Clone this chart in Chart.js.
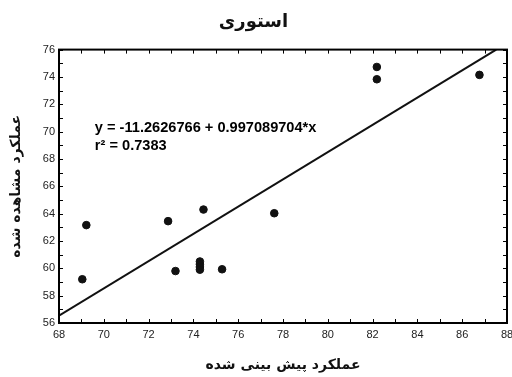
<!DOCTYPE html>
<html>
<head>
<meta charset="utf-8">
<script src="https://cdn.jsdelivr.net/npm/chart.js@4/dist/chart.umd.min.js"></script>
<style>
    body { margin: 0; background: #fff; }
    #box { width: 512px; height: 377px; }
</style>
</head>
<body>
<div id="box"><canvas id="storyChart"></canvas></div>
<script>
// 관측값 (예측 vs 관측)
const predicted = [69.04, 69.22, 72.87, 73.2, 74.29, 74.29, 74.29, 74.29, 74.45, 75.28, 77.61, 82.19, 82.19, 86.77];
const observed = [59.2, 63.16, 63.45, 59.8, 60.5, 60.3, 60.1, 59.9, 64.3, 59.93, 64.03, 74.73, 73.83, 74.15];

// 회귀선 양 끝점
const fitX = [68, 87.52];
const fitY = [56.54, 76];

const equationText = ['y = -11.2626766 + 0.997089704*x', 'r² = 0.7383'];
const titleText = 'استوری';
const xTitle = 'عملکرد پیش بینی شده';
const yTitle = 'عملکرد مشاهده شده';

const arabicFont = "'DejaVu Sans', sans-serif";
const numFont = "'Liberation Sans', Arial, sans-serif";

// 안쪽 눈금 + 테두리 + 식
const framePlugin = {
    id: 'framePlugin',
    afterDatasetsDraw(chart) {
        const ctx = chart.ctx;
        const a = chart.chartArea;
        const xs = chart.scales.x;
        const ys = chart.scales.y;
        ctx.save();
        ctx.strokeStyle = '#000';
        ctx.lineWidth = 1;
        for (let v = xs.min; v <= xs.max; v++) {
            const px = Math.round(xs.getPixelForValue(v)) + 0.5;
            ctx.beginPath();
            ctx.moveTo(px, a.bottom); ctx.lineTo(px, a.bottom - 4);
            ctx.moveTo(px, a.top); ctx.lineTo(px, a.top + 4);
            ctx.stroke();
        }
        for (let v = ys.min; v <= ys.max; v++) {
            const py = Math.round(ys.getPixelForValue(v)) + 0.5;
            ctx.beginPath();
            ctx.moveTo(a.left, py); ctx.lineTo(a.left + 4, py);
            ctx.moveTo(a.right, py); ctx.lineTo(a.right - 4, py);
            ctx.stroke();
        }
        ctx.lineWidth = 2;
        ctx.strokeRect(a.left, a.top, a.right - a.left, a.bottom - a.top);

        ctx.fillStyle = '#000';
        ctx.font = 'bold 14.6px ' + numFont;
        ctx.textBaseline = 'middle';
        ctx.textAlign = 'left';
        const tx = xs.getPixelForValue(69.6);
        ctx.fillText(equationText[0], tx, ys.getPixelForValue(70.3));
        ctx.fillText(equationText[1], tx, ys.getPixelForValue(68.95));
        ctx.restore();
    }
};

const ctx = document.getElementById('storyChart');

new Chart(ctx, {
    type: 'scatter',
    data: {
        datasets: [{
            label: 'observed',
            data: predicted.map((x, i) => ({ x: x, y: observed[i] })),
            backgroundColor: '#111',
            borderColor: '#111',
            pointRadius: 3.8,
            pointHoverRadius: 3.8
        }, {
            type: 'line',
            label: 'fit',
            data: fitX.map((x, i) => ({ x: x, y: fitY[i] })),
            borderColor: '#111',
            borderWidth: 2,
            pointRadius: 0,
            fill: false,
            tension: 0
        }]
    },
    options: {
        responsive: true,
        maintainAspectRatio: false,
        animation: false,
        layout: { padding: { left: 0, top: 0, bottom: 0, right: 5 }, autoPadding: false },
        plugins: {
            legend: { display: false },
            tooltip: { enabled: false },
            title: {
                display: true,
                text: titleText,
                color: '#111',
                font: { family: arabicFont, size: 18, weight: 'bold' },
                padding: { top: 12, bottom: 16 }
            }
        },
        scales: {
            x: {
                type: 'linear',
                min: 68,
                max: 88,
                afterFit: function (scale) {
                    scale.height = 54;
                    scale.paddingLeft = 0;
                    scale.paddingRight = 0;
                },
                ticks: {
                    stepSize: 2,
                    color: '#222',
                    padding: 5,
                    font: { family: numFont, size: 11 }
                },
                grid: { display: false, drawTicks: false },
                border: { display: false },
                title: {
                    display: true,
                    text: xTitle,
                    color: '#111',
                    font: { family: arabicFont, size: 14, weight: 'bold' },
                    padding: { top: 0, bottom: 3 }
                }
            },
            y: {
                type: 'linear',
                min: 56,
                max: 76,
                afterFit: function (scale) {
                    scale.width = 59;
                    scale.paddingTop = 0;
                    scale.paddingBottom = 0;
                },
                ticks: {
                    stepSize: 2,
                    color: '#222',
                    padding: 4,
                    font: { family: numFont, size: 11 }
                },
                grid: { display: false, drawTicks: false },
                border: { display: false },
                title: {
                    display: true,
                    text: yTitle,
                    color: '#111',
                    font: { family: arabicFont, size: 14, weight: 'bold' },
                    padding: { top: 8, bottom: 0 }
                }
            }
        }
    },
    plugins: [framePlugin]
});
</script>
</body>
</html>
